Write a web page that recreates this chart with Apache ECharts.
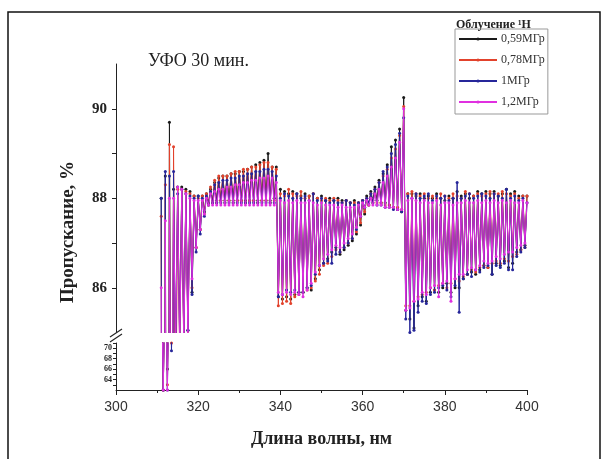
<!DOCTYPE html>
<html><head><meta charset="utf-8">
<script src="https://cdn.jsdelivr.net/npm/echarts@6/dist/echarts.min.js"></script>
<style>html,body{margin:0;padding:0;background:#fff}#c{width:605px;height:459px}</style>
</head><body><div id="c"></div>
<script>
// wavelength grid: peaks at 311..400 (step 1), troughs at 311.5..399.5
const peakStart = 311, peakCount = 90;
const seriesNames = ['0,59МГр', '0,78МГр', '1МГр', '1,2МГр'];
const xTicks = [300, 320, 340, 360, 380, 400];
const upperYLabels = [86, 88, 90];
const lowerYLabels = [64, 66, 68, 70];

// 0,59 MGy
const hi059 = [88.0,88.5,89.7,88.2,88.25,88.25,88.2,88.15,88.05,88.05,88.05,88.1,88.2,88.35,88.45,88.5,88.5,88.55,88.55,88.6,88.6,88.65,88.7,88.75,88.8,88.85,89.0,88.7,88.7,
 88.2,88.15,88.1,88.15,88.1,88.05,88.1,88.05,88.1,88.0,88.05,87.95,88.0,87.95,88.0,87.95,87.95,87.9,87.95,87.9,87.95,88.05,88.15,88.25,88.4,88.55,88.75,89.15,89.3,89.55,90.25,
 88.1,88.1,88.05,88.1,88.0,88.05,88.0,88.1,88.0,87.95,88.05,88.0,88.15,88.05,88.1,88.0,88.05,88.15,88.1,88.15,88.1,88.15,88.05,88.1,88.2,88.1,88.15,88.05,88.05,88.05];
const lo059 = [62.0,66.0,80.0,84.5,84.8,84.8,85.05,85.9,86.9,87.3,87.7,87.9,87.95,87.95,87.95,87.95,87.95,87.95,87.95,87.95,87.95,87.95,87.95,87.95,87.95,87.95,87.95,88.0,
 85.8,85.75,85.8,85.75,85.85,85.9,85.9,86.0,85.95,86.2,86.4,86.55,86.65,86.8,86.9,86.75,86.85,86.95,87.05,87.2,87.4,87.65,87.85,87.95,87.95,87.9,87.9,87.85,87.8,87.75,87.7,
 85.5,85.3,85.1,85.6,85.8,85.7,85.9,85.95,85.9,86.0,86.1,85.9,86.0,86.0,86.2,86.3,86.35,86.3,86.4,86.5,86.45,86.3,86.55,86.5,86.6,86.45,86.55,86.8,86.85,86.95];

// 0,78 MGy
const hi078 = [87.6,88.3,89.2,89.15,88.2,88.2,88.15,88.1,88.05,88.0,88.05,88.1,88.25,88.4,88.5,88.5,88.5,88.55,88.6,88.6,88.65,88.65,88.7,88.7,88.75,88.8,88.8,88.7,88.65,
 88.1,88.05,88.2,88.1,88.05,88.15,88.0,88.05,88.1,88.0,87.95,88.0,87.95,88.0,87.95,87.9,87.95,87.9,87.9,87.9,87.95,88.0,88.1,88.2,88.35,88.5,88.65,88.9,89.1,89.4,90.05,
 88.1,88.15,88.1,88.05,88.1,88.0,88.05,88.0,88.1,88.05,88.0,88.1,88.05,88.0,88.15,88.1,88.05,88.1,88.05,88.1,88.15,88.1,88.1,88.15,88.1,88.05,88.1,88.0,88.05,88.05];
const lo078 = [62.0,63.0,71.0,82.0,84.5,84.6,84.9,86.0,86.9,87.3,87.65,87.85,87.9,87.9,87.95,87.9,87.95,87.9,87.95,87.95,87.9,87.95,87.95,87.9,87.95,87.95,87.9,87.95,
 85.6,85.65,85.7,85.65,85.8,85.85,85.9,85.95,86.0,86.15,86.3,86.5,86.55,86.7,86.85,86.8,86.9,87.0,87.1,87.25,87.45,87.7,87.85,87.9,87.9,87.9,87.85,87.85,87.8,87.8,87.75,
 85.6,85.6,85.7,85.8,85.85,85.9,86.0,85.95,86.05,86.1,86.0,86.1,86.2,86.15,86.25,86.3,86.4,86.35,86.45,86.5,86.45,86.55,86.6,86.55,86.65,86.6,86.7,86.75,86.85,86.9];

// 1 MGy
const hi100 = [88.0,88.6,88.5,88.6,88.1,88.2,88.1,88.05,88.0,88.05,88.0,88.05,88.15,88.3,88.35,88.4,88.4,88.45,88.45,88.5,88.5,88.55,88.55,88.6,88.6,88.65,88.65,88.6,88.5,
 88.0,88.1,88.05,88.0,88.1,88.0,88.05,87.95,88.1,87.95,88.0,87.95,87.9,87.95,87.9,87.9,87.95,87.9,87.85,87.9,87.95,88.0,88.1,88.2,88.35,88.6,88.7,89.0,89.2,89.45,89.8,
 88.05,88.0,88.1,88.0,88.05,88.1,87.95,88.05,88.0,88.05,87.95,88.0,88.35,88.0,88.05,88.1,88.0,88.05,88.1,88.05,88.0,88.1,88.05,88.0,88.2,88.0,88.05,87.95,88.0,87.9];
const lo100 = [62.0,62.0,69.5,84.0,84.7,84.8,85.05,85.85,86.8,87.2,87.6,87.85,87.9,87.9,87.9,87.9,87.9,87.9,87.9,87.9,87.9,87.9,87.9,87.9,87.9,87.9,87.9,87.9,
 85.8,85.85,85.95,85.9,85.95,85.9,85.9,86.0,86.05,86.3,86.5,86.55,86.6,86.55,86.75,86.8,86.9,87.0,87.1,87.3,87.6,87.8,87.9,87.9,87.85,87.85,87.8,87.8,87.75,87.75,87.7,
 85.3,85.0,85.05,85.45,85.7,85.65,85.85,85.9,86.0,86.05,85.95,85.8,86.05,85.45,86.2,86.3,86.25,86.4,86.35,86.45,86.5,86.3,86.5,86.45,86.55,86.4,86.4,86.7,86.8,86.9];

// 1,2 MGy
const hi120 = [86.0,87.5,88.0,88.0,88.25,88.2,88.1,88.0,87.95,87.95,87.95,88.0,88.1,88.15,88.2,88.2,88.25,88.25,88.3,88.3,88.35,88.35,88.4,88.4,88.45,88.45,88.5,88.45,88.35,
 87.95,87.9,87.95,87.9,87.95,87.9,87.9,87.95,87.9,87.85,87.9,87.85,87.85,87.85,87.8,87.85,87.8,87.8,87.8,87.85,87.9,87.95,88.0,88.1,88.2,88.35,88.5,88.7,88.9,89.25,90.0,
 87.95,88.0,87.95,87.9,87.95,87.9,87.9,87.95,87.85,87.9,87.9,87.85,87.9,87.9,87.95,87.9,87.9,87.95,87.9,87.95,87.9,87.95,87.9,87.95,87.9,87.95,87.9,87.9,87.95,87.9];
const lo120 = [62.0,62.0,80.0,84.5,84.5,84.6,84.8,86.2,86.9,87.3,87.65,87.85,87.85,87.85,87.85,87.85,87.85,87.85,87.85,87.85,87.85,87.85,87.85,87.85,87.85,87.85,87.85,87.85,
 85.9,85.85,85.9,85.85,85.9,85.85,85.8,85.95,86.1,86.35,86.5,86.65,86.75,86.85,86.95,86.9,87.0,87.1,87.2,87.35,87.6,87.8,87.85,87.85,87.85,87.85,87.8,87.8,87.8,87.75,87.75,
 85.5,85.55,85.7,85.75,85.9,85.85,86.0,86.05,85.8,86.1,86.15,85.7,86.2,86.3,86.3,86.4,86.45,86.4,86.5,86.6,86.55,86.6,86.7,86.65,86.75,86.8,86.8,86.9,86.95,87.0];

const colors = ['#1a1a1a', '#e2422c', '#26269a', '#e030e0'];
const highs = [hi059, hi078, hi100, hi120];
const lows = [lo059, lo078, lo100, lo120];

function build(hi, lo) {
  const out = [];
  for (let i = 0; i < peakCount; i++) {
    out.push([peakStart + i, hi[i]]);
    if (i < lo.length) out.push([peakStart + i + 0.5, lo[i]]);
  }
  return out;
}

const SERIF = '"Liberation Serif", "DejaVu Serif", serif';
const SANS = '"Liberation Sans", Arial, sans-serif';

const series = [];
[0, 1].forEach(g => {
  seriesNames.forEach((n, k) => {
    series.push({
      name: n, type: 'line', xAxisIndex: g, yAxisIndex: g,
      data: build(highs[k], lows[k]), clip: true,
      symbol: 'circle', symbolSize: 3, showSymbol: true,
      lineStyle: { width: 1, color: colors[k] },
      itemStyle: { color: colors[k] },
      color: colors[k], z: 2 + k
    });
  });
});

const chart = echarts.init(document.getElementById('c'), null, { renderer: 'canvas' });
chart.setOption({
  animation: false,
  backgroundColor: '#fff',
  title: [{
    text: 'УФО 30 мин.', left: 143, top: 47,
    textStyle: { fontFamily: SERIF, fontSize: 18, fontWeight: 'normal', color: '#222' }
  }, {
    text: 'Облучение ¹H', left: 451, top: 14,
    textStyle: { fontFamily: SERIF, fontSize: 12, fontWeight: 'bold', color: '#222' }
  }],
  legend: {
    data: seriesNames, orient: 'vertical', left: 455, top: 29,
    itemWidth: 38, itemHeight: 4, itemGap: 9,
    borderColor: '#999', borderWidth: 1, padding: [4, 3, 6, 3],
    textStyle: { fontFamily: SERIF, fontSize: 12, color: '#333', padding: [0, 0, 0, -1] }
  },
  grid: [
    { left: 116, right: 78, top: 64, height: 268.5 },
    { left: 116, right: 78, top: 343, bottom: 69 }
  ],
  xAxis: [
    { type: 'value', gridIndex: 0, min: 300, max: 400, interval: 20, show: false },
    { type: 'value', gridIndex: 1, min: 300, max: 400, interval: 20,
      axisLine: { lineStyle: { color: '#222', width: 1 } },
      axisTick: { show: true, length: 5, lineStyle: { color: '#222' } },
      minorTick: { show: true, splitNumber: 2, length: 3, lineStyle: { color: '#222' } },
      splitLine: { show: false },
      axisLabel: { customValues: xTicks, fontFamily: SANS, fontSize: 14, color: '#333', margin: 10 },
      name: 'Длина волны, нм', nameLocation: 'middle', nameGap: 40,
      nameTextStyle: { fontFamily: SERIF, fontSize: 18, fontWeight: 'bold', color: '#222' }
    }
  ],
  yAxis: [
    { type: 'value', gridIndex: 0, min: 85, max: 91,
      axisLine: { show: true, lineStyle: { color: '#222', width: 1 } },
      axisTick: { show: true, customValues: [86, 87, 88, 89, 90], length: 4, lineStyle: { color: '#222' } },
      splitLine: { show: false },
      axisLabel: { customValues: upperYLabels, fontFamily: SERIF, fontSize: 15, fontWeight: 'bold', color: '#222', margin: 9 }
    },
    { type: 'value', gridIndex: 1, min: 62, max: 71,
      axisLine: { show: true, lineStyle: { color: '#222', width: 1 } },
      axisTick: { show: true, customValues: [63, 64, 65, 66, 67, 68, 69, 70, 71], length: 3, lineStyle: { color: '#222' } },
      splitLine: { show: false },
      axisLabel: { customValues: lowerYLabels, fontFamily: SERIF, fontSize: 8, fontWeight: 'bold', color: '#222', margin: 4 }
    }
  ],
  graphic: [
    { type: 'rect', shape: { x: 8, y: 12, width: 592, height: 470 }, style: { fill: 'none', stroke: '#111', lineWidth: 1.5 }, silent: true },
    { type: 'line', shape: { x1: 110, y1: 337, x2: 122, y2: 329 }, style: { stroke: '#222', lineWidth: 1.2 } },
    { type: 'line', shape: { x1: 110, y1: 342, x2: 122, y2: 334 }, style: { stroke: '#222', lineWidth: 1.2 } },
    { type: 'text', x: 68, y: 232, rotation: Math.PI / 2,
      style: { text: 'Пропускание, %', align: 'center', verticalAlign: 'middle',
        font: 'bold 19px "Liberation Serif", serif', fill: '#222' } }
  ],
  series: series
});
</script></body></html>
